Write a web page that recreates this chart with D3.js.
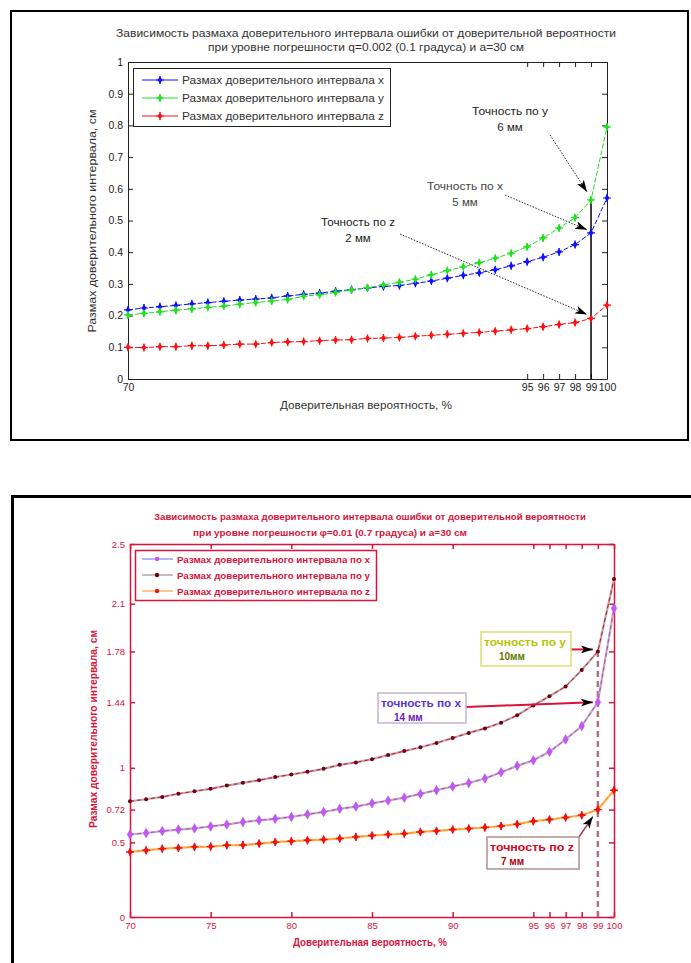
<!DOCTYPE html>
<html>
<head>
<meta charset="utf-8">
<script src="https://cdn.jsdelivr.net/npm/d3@7"></script>
<style>
body { margin: 0; background: #fff; }
svg { display: block; font-family: "Liberation Sans", Arial, sans-serif; }
</style>
</head>
<body>
<div id="chart-area"></div>
<script>
// confidence levels, %
var pct = [70,71,72,73,74,75,76,77,78,79,80,81,82,83,84,85,86,87,88,89,90,91,92,93,94,95,96,97,98,99,100];

// top chart: q=0.002, interval size, cm
var topX = [0.218,0.224,0.228,0.232,0.237,0.241,0.245,0.249,0.252,0.256,0.262,0.267,0.271,0.277,0.282,0.287,0.292,0.295,0.302,0.309,0.318,0.327,0.335,0.345,0.357,0.370,0.384,0.401,0.424,0.461,0.571];
var topY = [0.202,0.207,0.212,0.217,0.221,0.226,0.230,0.236,0.241,0.246,0.251,0.261,0.266,0.273,0.281,0.288,0.297,0.305,0.315,0.329,0.342,0.354,0.367,0.381,0.397,0.417,0.445,0.476,0.509,0.565,0.795];
var topZ = [0.100,0.099,0.102,0.102,0.105,0.105,0.107,0.110,0.110,0.115,0.117,0.118,0.121,0.123,0.124,0.128,0.129,0.131,0.135,0.138,0.141,0.144,0.147,0.151,0.155,0.159,0.165,0.172,0.178,0.191,0.233];

// bottom chart: q=0.01
var botX = [0.553,0.563,0.576,0.586,0.594,0.607,0.620,0.636,0.648,0.658,0.671,0.688,0.704,0.725,0.740,0.762,0.780,0.800,0.825,0.850,0.875,0.898,0.928,0.970,1.013,1.050,1.107,1.190,1.280,1.440,2.070];
var botY = [0.776,0.789,0.805,0.826,0.843,0.859,0.881,0.899,0.917,0.938,0.955,0.973,0.993,1.020,1.036,1.058,1.085,1.112,1.138,1.166,1.200,1.234,1.264,1.302,1.352,1.418,1.480,1.545,1.655,1.780,2.265];
var botZ = [0.436,0.447,0.458,0.463,0.470,0.472,0.481,0.482,0.492,0.502,0.508,0.514,0.519,0.526,0.537,0.546,0.553,0.559,0.570,0.577,0.586,0.593,0.600,0.610,0.622,0.642,0.653,0.667,0.682,0.720,0.850];

// ticks
var topXTicks = [70,95,96,97,98,99,100];
var topXTicksTop = [95,96,97,98,99,100];
var topYTicks = [0,0.1,0.2,0.3,0.4,0.5,0.6,0.7,0.8,0.9,1];
var botXTicks = [70,75,80,85,90,95,96,97,98,99,100];
var botYTicks = [0,0.5,0.72,1,1.44,1.78,2.1,2.5];

var topNames = ["Размах доверительного интервала x", "Размах доверительного интервала y", "Размах доверительного интервала z"];
var botNames = ["Размах доверительного интервала по x", "Размах доверительного интервала по y", "Размах доверительного интервала по z"];

var svg = d3.select("#chart-area")
  .append("svg")
    .attr("width", 691)
    .attr("height", 963);

var defs = svg.append("defs");
defs.append("marker")
  .attr("id", "head")
  .attr("viewBox", "0 0 12 8")
  .attr("refX", 12).attr("refY", 4)
  .attr("markerWidth", 12).attr("markerHeight", 8)
  .attr("markerUnits", "userSpaceOnUse")
  .attr("orient", "auto")
  .append("path").attr("d", "M0,0L12,4L0,8L3,4Z").attr("fill", "#000");

// panel frames
svg.append("rect").attr("x", 11).attr("y", 11).attr("width", 677).attr("height", 429)
  .attr("fill", "none").attr("stroke", "#000").attr("stroke-width", 2);
svg.append("rect").attr("x", 12.5).attr("y", 496.5).attr("width", 690).attr("height", 480)
  .attr("fill", "none").attr("stroke", "#000").attr("stroke-width", 3);

function boxAxes(g, x, y, o) {
  var col = o.color;
  var bottom = g.append("g").attr("transform", "translate(0," + y.range()[0] + ")")
    .call(d3.axisBottom(x).tickValues(o.xTicks).tickSizeInner(-5).tickSizeOuter(0).tickPadding(5).tickFormat(function(d){ return d; }));
  var left = g.append("g").attr("transform", "translate(" + x.range()[0] + ",0)")
    .call(d3.axisLeft(y).tickValues(o.yTicks).tickSizeInner(-5).tickSizeOuter(0).tickPadding(5).tickFormat(function(d){ return d; }));
  var top = g.append("g").attr("transform", "translate(0," + y.range()[1] + ")")
    .call(d3.axisTop(x).tickValues(o.xTicksTop).tickSizeInner(-5).tickSizeOuter(0).tickFormat(""));
  var right = g.append("g").attr("transform", "translate(" + x.range()[1] + ",0)")
    .call(d3.axisRight(y).tickValues(o.yTicks).tickSizeInner(-5).tickSizeOuter(0).tickFormat(""));
  [bottom, left, top, right].forEach(function(a) {
    a.selectAll("path, line").attr("stroke", col).attr("stroke-width", o.lw);
    a.selectAll("text").attr("fill", col).attr("font-size", o.fs)
      .attr("font-family", "Liberation Sans, Arial, sans-serif").attr("font-weight", o.fw);
  });
}

function label(g, txt, xp, yp, fs, len, col, fw, rot) {
  var t = g.append("text")
    .attr("x", xp).attr("y", yp)
    .attr("text-anchor", "middle")
    .attr("font-size", fs)
    .attr("font-weight", fw || "normal")
    .attr("fill", col)
    .text(txt);
  if (len) t.attr("textLength", len).attr("lengthAdjust", "spacingAndGlyphs");
  if (rot) t.attr("transform", "rotate(-90," + xp + "," + yp + ")");
  return t;
}

// ---------- top chart ----------
var g1 = svg.append("g");
var x1 = d3.scaleLinear().domain([70, 100]).range([128, 607]);
var y1 = d3.scaleLinear().domain([0, 1]).range([379, 62]);

label(g1, "Зависимость размаха доверительного интервала ошибки от доверительной вероятности", 366, 37, 11, 500, "#333");
label(g1, "при уровне погрешности q=0.002 (0.1 градуса) и a=30 см", 366, 51, 11, 316, "#333");

boxAxes(g1, x1, y1, {color: "#222", lw: 1, fs: 10.5, fw: "normal",
  xTicks: topXTicks, xTicksTop: topXTicksTop, yTicks: topYTicks});

label(g1, "Размах доверительного интервала, см", 96, 221, 11, 223, "#333", "normal", true);
label(g1, "Доверительная вероятность, %", 366, 409, 11, 172, "#333");

var topSeries = [
  {vals: topX, color: "#1010ff"},
  {vals: topY, color: "#20e020"},
  {vals: topZ, color: "#ff1010"}
];

var line1 = d3.line()
  .x(function(d, i) { return x1(pct[i]); })
  .y(function(d) { return y1(d); });

topSeries.forEach(function(s) {
  g1.append("path").datum(s.vals)
    .attr("d", line1).attr("fill", "none")
    .attr("stroke", s.color).attr("stroke-width", 1)
    .attr("stroke-dasharray", "5,2");
});

// vertical marker at 99 %
g1.append("line")
  .attr("x1", x1(99)).attr("x2", x1(99))
  .attr("y1", y1(0)).attr("y2", y1(topY[29]))
  .attr("stroke", "#000").attr("stroke-width", 1.5);

function starMarks(g, vals, color, x, y) {
  var m = g.append("g").selectAll("g").data(vals).enter().append("g")
    .attr("transform", function(d, i) { return "translate(" + x(pct[i]) + "," + y(d) + ")"; });
  m.append("path").attr("d", "M-4,0H4M0,-4V4").attr("stroke", color).attr("stroke-width", 1.2);
  m.append("path").attr("d", d3.symbol().type(d3.symbolDiamond).size(18)).attr("fill", color);
}
topSeries.forEach(function(s) { starMarks(g1, s.vals, s.color, x1, y1); });

// legend
var leg1 = g1.append("g");
leg1.append("rect").attr("x", 133.5).attr("y", 68.5).attr("width", 257).attr("height", 58)
  .attr("fill", "#fff").attr("stroke", "#222").attr("stroke-width", 1);
topSeries.forEach(function(s, i) {
  var yy = 80 + i * 18;
  leg1.append("line").attr("x1", 142).attr("x2", 178).attr("y1", yy).attr("y2", yy)
    .attr("stroke", s.color).attr("stroke-width", 1);
  var m = leg1.append("g").attr("transform", "translate(160," + yy + ")");
  m.append("path").attr("d", "M-4,0H4M0,-4V4").attr("stroke", s.color).attr("stroke-width", 1.2);
  m.append("path").attr("d", d3.symbol().type(d3.symbolDiamond).size(18)).attr("fill", s.color);
  leg1.append("text").attr("x", 182).attr("y", yy + 4).attr("font-size", 11.5).attr("fill", "#333")
    .attr("textLength", 202).attr("lengthAdjust", "spacingAndGlyphs").text(topNames[i]);
});

// annotations
function arrow(g, xa, ya, xb, yb, col, w, dash) {
  g.append("line").attr("x1", xa).attr("y1", ya).attr("x2", xb).attr("y2", yb)
    .attr("stroke", col).attr("stroke-width", w)
    .attr("stroke-dasharray", dash || null)
    .attr("marker-end", "url(#head)");
}
label(g1, "Точность по y", 510, 115, 11.5, 76, "#222");
label(g1, "6 мм", 510, 131, 11.5, null, "#222");
arrow(g1, 550, 135, x1(99) - 4, y1(topY[29]) - 8, "#222", 1, "1.5,1.5");
label(g1, "Точность по x", 465, 190, 11.5, 76, "#444");
label(g1, "5 мм", 465, 206, 11.5, null, "#444");
arrow(g1, 505, 195, x1(99) - 4, y1(topX[29]) - 3, "#222", 1, "1.5,1.5");
label(g1, "Точность по z", 358, 226, 11.5, 74, "#222");
label(g1, "2 мм", 358, 242, 11.5, null, "#222");
arrow(g1, 400, 234, x1(99) - 4, y1(topZ[29]) - 4, "#222", 1, "1.5,1.5");

// ---------- bottom chart ----------
var red = "#d8143c";
var g2 = svg.append("g");
var x2 = d3.scaleLinear().domain([70, 100]).range([130, 614]);
var y2 = d3.scaleLinear().domain([0, 2.5]).range([917, 544]);

label(g2, "Зависимость размаха доверительного интервала ошибки от доверительной вероятности", 370, 520, 9.5, 432, red, "bold");
label(g2, "при уровне погрешности φ=0.01 (0.7 градуса) и a=30 см", 330, 536, 9.5, 274, red, "bold");

boxAxes(g2, x2, y2, {color: red, lw: 1.5, fs: 9.5, fw: "normal",
  xTicks: botXTicks, xTicksTop: botXTicks, yTicks: botYTicks});

label(g2, "Размах доверительного интервала, см", 97, 729, 10, 198, red, "bold", true);
label(g2, "Доверительная вероятность, %", 370, 946, 10, 154, red, "bold");

// dashed line at 99 %
g2.append("line")
  .attr("x1", x2(99)).attr("x2", x2(99))
  .attr("y1", y2(0)).attr("y2", y2(botY[29]))
  .attr("stroke", "#b07088").attr("stroke-width", 2.5).attr("stroke-dasharray", "6,4");

var line2 = d3.line()
  .x(function(d, i) { return x2(pct[i]); })
  .y(function(d) { return y2(d); });

var botSeries = [
  {vals: botX, base: "#bcb0bc", over: "#d030e0", mark: "#d050f0", legLine: "#8080ff"},
  {vals: botY, base: "#bca8a8", over: "#cc1030", mark: "#700010", legLine: "#a09090"},
  {vals: botZ, base: "#ffb050", over: "#ff8c20", mark: "#f01010", legLine: "#ffa040"}
];

botSeries.forEach(function(s) {
  g2.append("path").datum(s.vals).attr("d", line2).attr("fill", "none")
    .attr("stroke", s.base).attr("stroke-width", 2.2);
  g2.append("path").datum(s.vals).attr("d", line2).attr("fill", "none")
    .attr("stroke", s.over).attr("stroke-width", 1).attr("stroke-dasharray", "4,3");
});

// markers
g2.append("g").selectAll("path").data(botX).enter().append("path")
  .attr("transform", function(d, i) { return "translate(" + x2(pct[i]) + "," + y2(d) + ")"; })
  .attr("d", d3.symbol().type(d3.symbolDiamond).size(26))
  .attr("fill", "#d050f0").attr("stroke", "#9060ff").attr("stroke-width", 0.6);
g2.append("g").selectAll("circle").data(botY).enter().append("circle")
  .attr("cx", function(d, i) { return x2(pct[i]); })
  .attr("cy", function(d) { return y2(d); })
  .attr("r", 2).attr("fill", "#700010");
var zm = g2.append("g").selectAll("g").data(botZ).enter().append("g")
  .attr("transform", function(d, i) { return "translate(" + x2(pct[i]) + "," + y2(d) + ")"; });
zm.append("path").attr("d", "M-4,0H4M0,-4V4").attr("stroke", "#f01010").attr("stroke-width", 1.4);
zm.append("path").attr("d", d3.symbol().type(d3.symbolDiamond).size(22)).attr("fill", "#f01010");

// legend
var leg2 = g2.append("g");
leg2.append("rect").attr("x", 135.5).attr("y", 550.5).attr("width", 241).attr("height", 50)
  .attr("fill", "#fff").attr("stroke", red).attr("stroke-width", 1.5);
botSeries.forEach(function(s, i) {
  var yy = 559 + i * 16;
  leg2.append("line").attr("x1", 142).attr("x2", 173).attr("y1", yy).attr("y2", yy)
    .attr("stroke", s.legLine).attr("stroke-width", 1.2);
  leg2.append("circle").attr("cx", 157).attr("cy", yy).attr("r", 2.2).attr("fill", s.mark);
  leg2.append("text").attr("x", 177).attr("y", yy + 3.5).attr("font-size", 9.5)
    .attr("font-weight", "bold").attr("fill", red)
    .attr("textLength", 193).attr("lengthAdjust", "spacingAndGlyphs").text(botNames[i]);
});

// annotation boxes
function noteBox(g, bx, by, bw, bh, border, l1, c1, l2, c2, dx2) {
  g.append("rect").attr("x", bx).attr("y", by).attr("width", bw).attr("height", bh)
    .attr("fill", "#fff").attr("stroke", border).attr("stroke-width", 1.5);
  g.append("text").attr("x", bx + 3).attr("y", by + 14).attr("font-size", 10).attr("font-weight", "bold")
    .attr("fill", c1).attr("textLength", bw - 8).attr("lengthAdjust", "spacingAndGlyphs").text(l1);
  g.append("text").attr("x", bx + dx2).attr("y", by + 28).attr("font-size", 10).attr("font-weight", "bold")
    .attr("fill", c2).text(l2);
}

arrow(g2, 571, y2(botY[29]) - 2, x2(99) - 5, y2(botY[29]) - 2, red, 2);
noteBox(g2, 481, 632, 90, 34, "#d8e070", "точность по y", "#b4c400", "10мм", "#687800", 18);

arrow(g2, 466, 707, x2(99) - 5, y2(botX[29]), red, 2);
noteBox(g2, 378, 693, 88, 30, "#c4b4d4", "точность по x", "#5a30e0", "14 мм", "#7020c0", 16);

arrow(g2, 579, 837, x2(99) - 5, y2(botZ[29]) + 7, "#a04050", 1.5);
noteBox(g2, 487, 837, 92, 32, "#b09090", "точность по z", "#e00020", "7 мм", "#b00010", 14);
</script>
</body>
</html>
